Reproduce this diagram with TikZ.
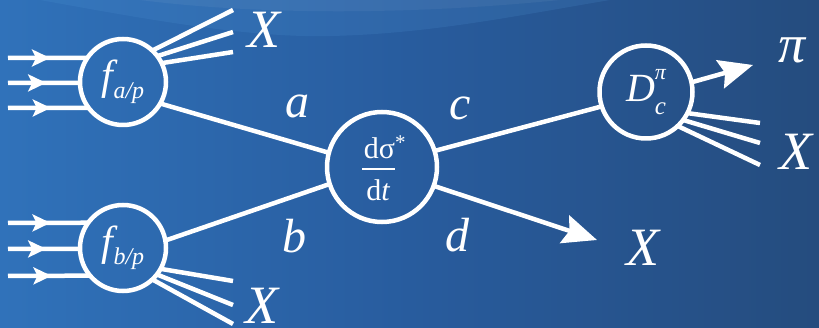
\documentclass[tikz,border=0pt]{standalone}
\usepackage{fontspec}
\setmainfont{Liberation Serif}[ItalicFont={Liberation Serif Italic}]
\newfontfamily\itf{Liberation Serif Italic}
\usetikzlibrary{arrows.meta,decorations.markings}
\definecolor{bgL}{RGB}{48,114,186}
\definecolor{bgM}{RGB}{40,92,158}
\definecolor{bgR}{RGB}{37,76,126}
\definecolor{bgLight}{RGB}{80,150,215}
\tikzset{
  ln/.style={line width=4.5pt, draw=white},
  circ/.style={circle, draw=white, line width=4.5pt, inner sep=0pt, outer sep=0pt, text=white},
  lbl/.style={text=white, inner sep=0pt, font=\fontsize{48}{48}\selectfont\itf},
  xlbl/.style={text=white, inner sep=0pt, font=\fontsize{54}{54}\selectfont\itf},
  inarrow/.style={ln, postaction={decorate}, decoration={markings, mark=at position 0.53 with {\arrow[white]{Stealth[length=18pt,width=17pt,inset=4pt]}}}},
  bigarrow/.style={ln, -{Stealth[length=34pt,width=29pt,inset=5pt]}, white}
}
\begin{document}
\begin{tikzpicture}[x=1pt,y=-1pt]
% background
\useasboundingbox (0,0) rectangle (819,328);
\shade[left color=bgL, right color=bgR, middle color=bgM] (0,0) rectangle (819,328);
\fill[bgLight, opacity=0.18] (40,0) .. controls (150,20) and (250,38) .. (330,36) .. controls (430,34) and (520,15) .. (610,0) -- cycle;
\fill[white, opacity=0.05] (140,0) .. controls (250,14) and (400,16) .. (560,0) -- cycle;

% circles
\node[circ, minimum size=86pt] (fa) at (123,82) {\fontsize{42}{42}\selectfont\itf f\raisebox{-0.22em}{\fontsize{24}{24}\selectfont a/p}};
\node[circ, minimum size=86pt] (fb) at (123,248) {\fontsize{42}{42}\selectfont\itf f\raisebox{-0.22em}{\fontsize{24}{24}\selectfont b/p}};
\node[circ, minimum size=110pt] (sig) at (382,167) {};
\node[text=white, inner sep=0pt, font=\fontsize{30}{30}\selectfont] (num) at (385,147) {dσ\textsuperscript{*}};
\node[text=white, inner sep=0pt, font=\fontsize{30}{30}\selectfont] (den) at (378,190) {d{\itf t}};
\coordinate (rl) at (362,169);
\coordinate (rr) at (395,169);
\draw[white, line width=2.2pt] (rl) -- (rr);
\node[circ, minimum size=93pt] (D) at (646,92) {\fontsize{40}{40}\selectfont\itf D\makebox[0pt][l]{\raisebox{0.55em}{\fontsize{22}{22}\selectfont π}}\raisebox{-0.33em}{\fontsize{25}{25}\selectfont c}};

% incoming arrows
\coordinate (ia1) at (8,58);
\coordinate (ia2) at (8,83);
\coordinate (ia3) at (8,108);
\draw[inarrow] (ia1) -- (fa.146);
\draw[inarrow] (ia2) -- (fa.181);
\draw[inarrow] (ia3) -- (fa.217);
\coordinate (ib1) at (8,223);
\coordinate (ib2) at (8,249);
\coordinate (ib3) at (8,276);
\draw[inarrow] (ib1) -- (fb.144);
\draw[inarrow] (ib2) -- (fb.181);
\draw[inarrow] (ib3) -- (fb.220);

% outgoing X jets from fa
\coordinate (xa1) at (233,10);
\coordinate (xa2) at (233,32);
\coordinate (xa3) at (233,52);
\draw[ln] (fa.47) -- (xa1);
\draw[ln] (fa.37) -- (xa2);
\draw[ln] (fa.26) -- (xa3);
\node[xlbl] (Xa) at (264,30) {X};

% outgoing X jets from fb
\coordinate (xb1) at (233,281);
\coordinate (xb2) at (233,305);
\coordinate (xb3) at (233,324);
\draw[ln] (fb.-29) -- (xb1);
\draw[ln] (fb.-38) -- (xb2);
\draw[ln] (fb.-47) -- (xb3);
\node[xlbl] (Xb) at (262,306) {X};

% partons
\draw[ln] (fa.-30) -- (sig.165);
\draw[ln] (fb.10) -- (sig.-162);
\draw[ln] (sig.17) -- (D.198);
\coordinate (xt) at (597,240);
\draw[bigarrow] (sig.-20) -- (xt);
\node[xlbl] (Xd) at (643,248) {X};

\node[lbl] (la) at (297,106) {a};
\node[lbl] (lb) at (294,236) {b};
\node[lbl] (lc) at (460,108) {c};
\node[lbl] (ld) at (457,235) {d};

% fragmentation
\coordinate (pt) at (753,65);
\draw[bigarrow] (D.12) -- (pt);
\node[text=white, inner sep=0pt, font=\fontsize{54}{54}\selectfont\itf] (pi) at (792,50) {π};
\coordinate (xd1) at (760,123);
\coordinate (xd2) at (760,143);
\coordinate (xd3) at (760,165);
\draw[ln] (D.-27) -- (xd1);
\draw[ln] (D.-37) -- (xd2);
\draw[ln] (D.-47) -- (xd3);
\node[xlbl] (Xc) at (796,152) {X};
\end{tikzpicture}
\end{document}
